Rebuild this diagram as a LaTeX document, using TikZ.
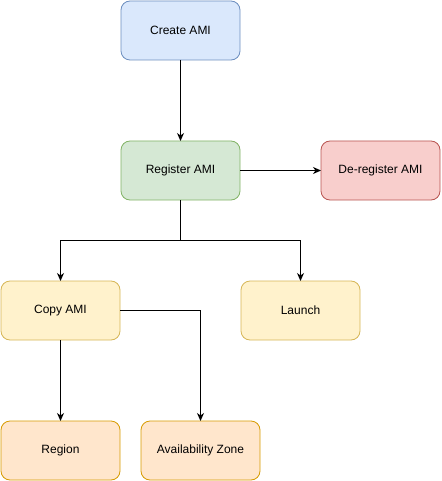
\documentclass[tikz,border=0pt]{standalone}
\usepackage{fontspec}
\setmainfont{Liberation Sans}
\usetikzlibrary{arrows.meta,positioning}

\definecolor{blueFill}{HTML}{DAE8FC}\definecolor{blueLine}{HTML}{6C8EBF}
\definecolor{greenFill}{HTML}{D5E8D4}\definecolor{greenLine}{HTML}{82B366}
\definecolor{redFill}{HTML}{F8CECC}\definecolor{redLine}{HTML}{B85450}
\definecolor{yellowFill}{HTML}{FFF2CC}\definecolor{yellowLine}{HTML}{D6B656}
\definecolor{orangeFill}{HTML}{FFE6CC}\definecolor{orangeLine}{HTML}{D79B00}

\tikzset{
  amibox/.style={rectangle, rounded corners=9pt, minimum width=119pt, minimum height=59pt,
    inner sep=0pt, outer sep=0pt, line width=0.8pt, font=\fontsize{12}{14}\selectfont},
  flow/.style={line width=1pt, -{Stealth[length=8pt,width=7pt,inset=2.5pt]}},
}

\begin{document}
\begin{tikzpicture}[x=1pt,y=-1pt]
      \useasboundingbox (0,0) rectangle (441,481);

      \node[amibox, fill=blueFill, draw=blueLine]     (create)   at (180.5, 30.5)  {Create AMI};
      \node[amibox, fill=greenFill, draw=greenLine]   (register) at (180.5, 170.5) {Register AMI};
      \node[amibox, fill=redFill, draw=redLine]       (dereg)    at (380.5, 170.5) {De-register AMI};
      \node[amibox, fill=yellowFill, draw=yellowLine] (copy)     at (60.5, 310.5)  {Copy AMI};
      \node[amibox, fill=yellowFill, draw=yellowLine] (launch)   at (300.5, 310.5) {Launch};
      \node[amibox, fill=orangeFill, draw=orangeLine] (region)   at (60.5, 450.5)  {Region};
      \node[amibox, fill=orangeFill, draw=orangeLine] (zone)     at (200.5, 450.5) {Availability Zone};

      \coordinate (split) at (180.5, 240.5);

      \draw[flow] (create) -- (register);
      \draw[flow] (register) -- (dereg);
      \draw[line width=1pt] (register) -- (split);
      \draw[flow] (split) -| (copy);
      \draw[flow] (split) -| (launch);
      \draw[flow] (copy) -- (region);
      \draw[flow] (copy.east) -| (zone);
\end{tikzpicture}
\end{document}
